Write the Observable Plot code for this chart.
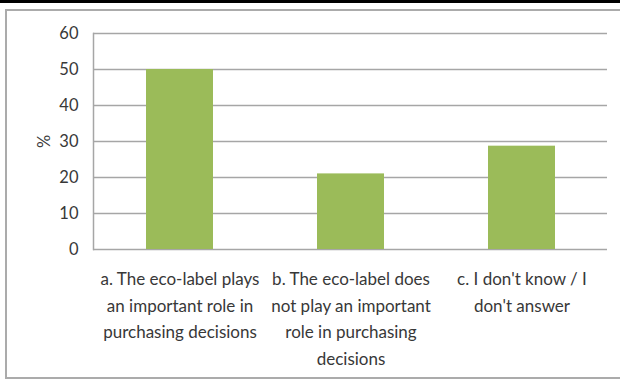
<!DOCTYPE html>
<html>
<head>
<meta charset="utf-8">
<script src="https://cdn.jsdelivr.net/npm/d3@7"></script>
<script src="https://cdn.jsdelivr.net/npm/@observablehq/plot@0.6"></script>
<style>
  html, body { margin: 0; padding: 0; background: #fff; }
  #wrap { position: relative; width: 620px; height: 383px; overflow: hidden; }
  #chart { position: absolute; left: 0; top: 0; }
  #topband { position: absolute; left: 0; top: 0; width: 620px; height: 3px; background: #000; }
  #border { position: absolute; left: 5px; top: 9px; width: 630px; height: 370px; border: 2px solid #ababab; box-sizing: border-box; }
</style>
</head>
<body>
<div id="wrap">
  <div id="chart"></div>
  <div id="topband"></div>
  <div id="border"></div>
</div>
<script>
const categories = ["a", "b", "c"];
const categoryLabels = [
  "a. The eco-label plays\nan important role in\npurchasing decisions",
  "b. The eco-label does\nnot play an important\nrole in purchasing\ndecisions",
  "c. I don't know / I\ndon't answer"
];
const values = [50, 21, 28.7];
const yTicks = [0, 10, 20, 30, 40, 50, 60];
const yLabel = "%";

const data = categories.map((c, i) => ({cat: c, label: categoryLabels[i], value: values[i]}));
const labelOf = new Map(data.map(d => [d.cat, d.label]));

const chart = Plot.plot({
  width: 620,
  height: 383,
  marginLeft: 93,
  marginRight: 13,
  marginTop: 33,
  marginBottom: 134,
  style: {background: "transparent", fontFamily: "Lato, 'Liberation Sans', sans-serif", fontSize: "16px", color: "#383838"},
  x: {domain: categories, paddingInner: 0.61, paddingOuter: 0.305, label: null},
  y: {domain: [0, 60], label: null},
  marks: [
    Plot.ruleY(yTicks, {stroke: "#a6a6a6", strokeWidth: 1.5}),
    Plot.frame({anchor: "left", stroke: "#a6a6a6", strokeWidth: 1.5}),
    Plot.barY(data, {x: "cat", y: "value", fill: "#9bbb59"}),
    Plot.axisY({ticks: yTicks, tickSize: 0, tickPadding: 15, label: yLabel, labelAnchor: "center", labelArrow: "none", labelOffset: 55, fill: "#383838", fontSize: 16.5}),
    Plot.axisX({tickSize: 0, tickPadding: 17, tickFormat: d => labelOf.get(d), lineHeight: 1.56, fill: "#383838", fontSize: 17, label: null})
  ]
});
document.getElementById("chart").appendChild(chart);
</script>
</body>
</html>
